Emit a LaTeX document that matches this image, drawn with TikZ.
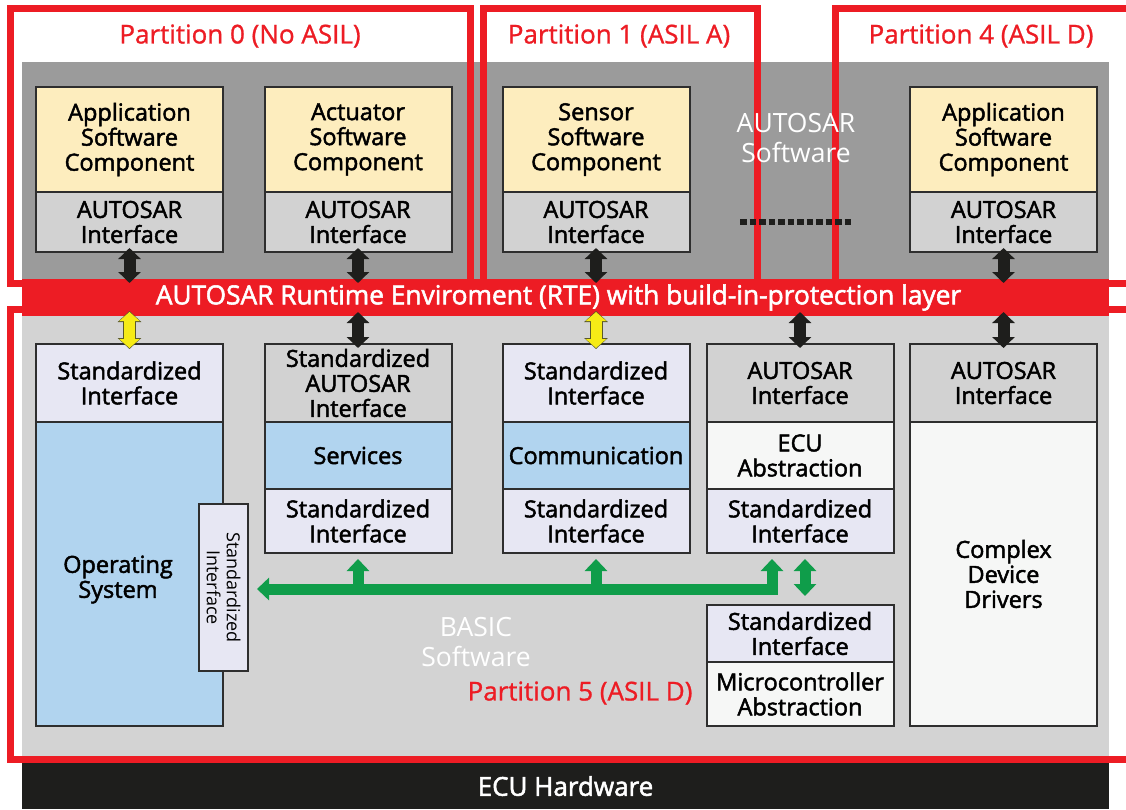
\documentclass[tikz,border=0pt]{standalone}
\usepackage{fontspec}
\setmainfont{Open Sans}
\newfontfamily\semifont[FakeBold=2]{Open Sans}
\newfontfamily\medfont[FakeBold=1]{Open Sans}
\usetikzlibrary{arrows.meta,positioning}

\definecolor{rtered}{HTML}{ED1C24}
\definecolor{swgray}{HTML}{9B9B9B}
\definecolor{bswgray}{HTML}{D3D3D3}
\definecolor{hwblack}{HTML}{1E1E1C}
\definecolor{swcyellow}{HTML}{FDEDBE}
\definecolor{ifgray}{HTML}{D2D2D2}
\definecolor{stdlav}{HTML}{E7E7F3}
\definecolor{modblue}{HTML}{B1D4EF}
\definecolor{absw}{HTML}{F6F7F6}
\definecolor{boxline}{HTML}{2E2E2E}
\definecolor{busgreen}{HTML}{0F9D4A}
\definecolor{arryellow}{HTML}{F6EB16}
\definecolor{arredge}{HTML}{5A5A2A}

\tikzset{
  btip/.tip={Triangle[width=22pt,length=11pt]},
  gtip/.tip={Triangle[width=22pt,length=12pt]},
  box/.style={draw=boxline, line width=2pt, inner sep=0pt, outer sep=0pt,
    minimum width=187pt, align=center, font=\semifont\fontsize{23.5}{25}\selectfont},
  swc/.style={box, fill=swcyellow, minimum height=105pt},
  arif/.style={box, fill=ifgray, minimum height=60pt},
  stdif/.style={box, fill=stdlav, minimum height=78pt},
  partframe/.style={draw=rtered, line width=7pt},
  partlabel/.style={text=rtered, font=\medfont\fontsize{26}{30}\selectfont},
  whitelabel/.style={text=white, align=center, font=\fontsize{26.5}{30}\selectfont},
  blkarrow/.style={draw=hwblack, line width=12pt, btip-btip, shorten <=-4pt, shorten >=-4pt},
  ylwarrow/.style={draw=arryellow, line width=11pt, shorten <=-4pt, shorten >=-4pt,
    {Triangle[width=20pt,length=9pt]}-{Triangle[width=20pt,length=9pt]},
    preaction={draw=arredge, line width=13pt, shorten <=-5pt, shorten >=-5pt,
      {Triangle[width=23pt,length=11pt]}-{Triangle[width=23pt,length=11pt]}}},
  busarrow/.style={draw=busgreen, line width=11pt, line join=miter}
}

\begin{document}
\begin{tikzpicture}[x=1pt,y=-1pt]
\useasboundingbox[fill=white] (0,0) rectangle (1126,809);

% layers
\fill[swgray] (22,62) rectangle (1109,281);
\fill[bswgray] (22,314) rectangle (1109,757);

% partitions
\draw[partframe] (10.5,8.5) rectangle (470.5,283.5);
\draw[partframe] (483.5,8.5) rectangle (757.5,283.5);
\draw[partframe] (835,8.5) rectangle (1140,283.5);
\draw[partframe] (10.5,309.5) rectangle (1140,759.5);

\node[partlabel] (p0) at (240,36) {Partition 0 (No ASIL)};
\node[partlabel] (p1) at (619,36) {Partition 1 (ASIL A)};
\node[partlabel] (p4) at (981,36) {Partition 4 (ASIL D)};

% rte and hardware
\node[fill=rtered, text=white, inner sep=0pt, outer sep=0pt, minimum width=1087pt,
  minimum height=37pt, font=\semifont\fontsize{26.3}{25}\selectfont] (rte) at (565.5,297.5)
  {AUTOSAR Runtime Enviroment (RTE) with build-in-protection layer\hspace*{14pt}};
\node[fill=hwblack, text=white, inner sep=0pt, outer sep=0pt, minimum width=1087pt,
  minimum height=46pt, font=\semifont\fontsize{26}{25}\selectfont] (hw) at (565.5,786)
  {ECU Hardware};

% application layer
\node[swc] (swc0) at (129.5,139.5) {Application\\Software\\Component};
\node[arif, below=0pt of swc0] (if0) {AUTOSAR\\Interface};
\node[swc] (swc1) at (358,139.5) {Actuator\\Software\\Component};
\node[arif, below=0pt of swc1] (if1) {AUTOSAR\\Interface};
\node[swc] (swc2) at (596,139.5) {Sensor\\Software\\Component};
\node[arif, below=0pt of swc2] (if2) {AUTOSAR\\Interface};
\node[swc] (swc4) at (1003.5,139.5) {Application\\Software\\Component};
\node[arif, below=0pt of swc4] (if4) {AUTOSAR\\Interface};

\node[whitelabel] (asw) at (796,138.5) {AUTOSAR\\Software};
\draw[hwblack, line width=6pt, dash pattern=on 6.5pt off 3pt] (740,222) -- (853,222);

% basic software
\node[stdif] (osif) at (129.5,383) {Standardized\\Interface};
\node[box, fill=modblue, minimum height=304pt, below=0pt of osif] (os) {};
\node[font=\semifont\fontsize{23.5}{25}\selectfont, align=center] (oslabel) at (118,579.5) {Operating\\System};
\node[box, fill=stdlav, rotate=-90, minimum width=167pt, minimum height=49pt,
  font=\fontsize{18}{20}\selectfont] (ossi) at (223.5,587.5) {Standardized\\Interface};

\node[box, fill=ifgray, minimum height=78pt] (svcif) at (358,383) {Standardized\\AUTOSAR\\Interface};
\node[box, fill=modblue, minimum height=67pt, below=0pt of svcif] (svc) {Services};
\node[box, fill=stdlav, minimum height=64pt, below=0pt of svc] (svcsi) {Standardized\\Interface};

\node[stdif] (comif) at (596,383) {Standardized\\Interface};
\node[box, fill=modblue, minimum height=67pt, below=0pt of comif] (com) {Communication};
\node[box, fill=stdlav, minimum height=64pt, below=0pt of com] (comsi) {Standardized\\Interface};

\node[box, fill=ifgray, minimum height=78pt] (ecuif) at (800,383) {AUTOSAR\\Interface};
\node[box, fill=absw, minimum height=67pt, below=0pt of ecuif] (ecu) {ECU\\Abstraction};
\node[box, fill=stdlav, minimum height=64pt, below=0pt of ecu] (ecusi) {Standardized\\Interface};

\node[box, fill=stdlav, minimum height=57pt] (mcusi) at (800,633.5) {Standardized\\Interface};
\node[box, fill=absw, minimum height=64pt, below=0pt of mcusi] (mcu) {Microcontroller\\Abstraction};

\node[box, fill=ifgray, minimum height=78pt] (cddif) at (1003.5,383) {AUTOSAR\\Interface};
\node[box, fill=absw, minimum height=304pt, below=0pt of cddif] (cdd) {Complex\\Device\\Drivers};

\node[whitelabel] (bsw) at (476,642) {BASIC\\Software};
\node[partlabel] (p5) at (580,693) {Partition 5 (ASIL D)};

% links to the rte
\foreach \n in {if0,if1,if2,if4}
  \draw[blkarrow] (\n.south) -- (\n.south |- rte.north);
\foreach \n in {svcif,ecuif,cddif}
  \draw[blkarrow] (rte.south -| \n.north) -- (\n.north);
\foreach \n in {osif,comif}
  \draw[ylwarrow] (rte.south -| \n.north) -- (\n.north);

% bus
\coordinate (bus) at (772,589);
\draw[busarrow, gtip-gtip, shorten <=9pt, shorten >=6pt] (bus -| ossi.north) -- (bus) -- (bus |- ecusi.south);
\draw[busarrow, -gtip, shorten >=6pt] (bus -| svcsi.south) -- (svcsi.south);
\draw[busarrow, -gtip, shorten >=6pt] (bus -| comsi.south) -- (comsi.south);
\draw[busarrow, gtip-gtip, shorten <=6pt, shorten >=9pt] ([xshift=5pt]ecusi.south) -- ([xshift=5pt]mcusi.north);
\end{tikzpicture}
\end{document}
